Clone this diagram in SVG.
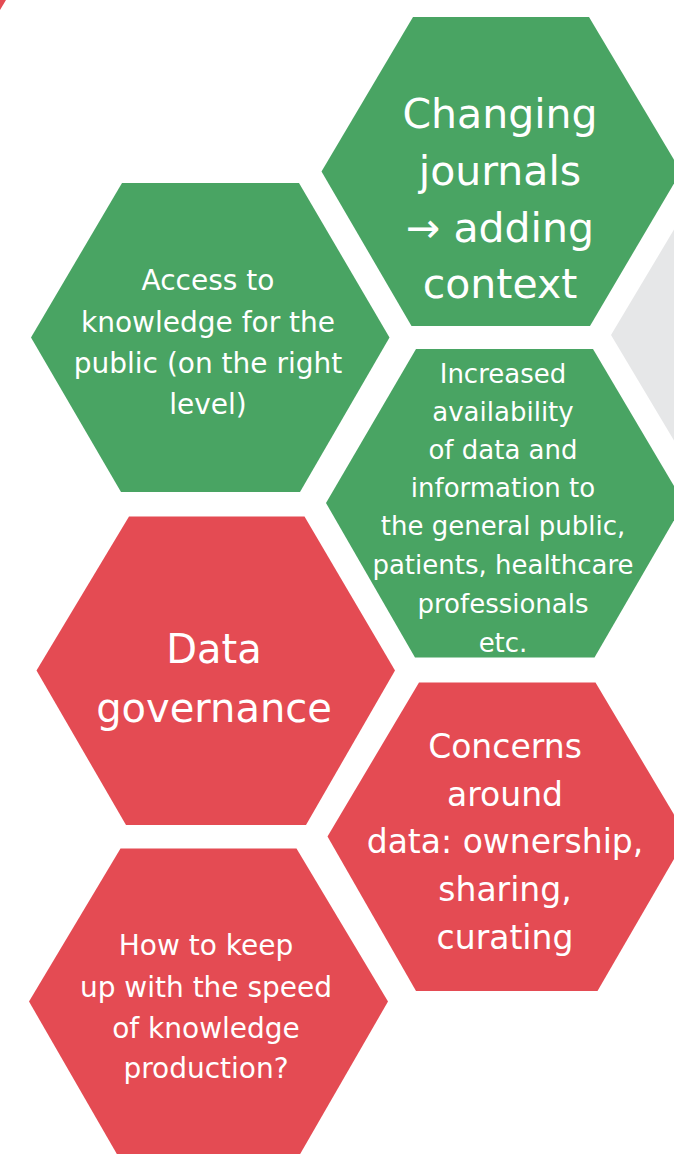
<svg xmlns="http://www.w3.org/2000/svg" width="674" height="1154" viewBox="0 0 674 1154">
<style>
.green{fill:#49a463}
.red{fill:#e44b53}
.grey{fill:#e6e7e8}
text{font-family:"DejaVu Sans","Liberation Sans",sans-serif;fill:#ffffff;text-anchor:middle}
.t41{font-size:41px}
.t40{font-size:40px}
.t33{font-size:33px}
.t28{font-size:28px}
.t26{font-size:26px}
</style>
<rect x="0" y="0" width="674" height="1154" fill="#ffffff"/>
<g id="corner-red">
<polygon class="red" points="0,0 6,0 0,10"/>
</g>
<g id="grey-hex">
<polygon class="grey" points="611,335 703,181 880,181 970,335 880,489 703,489"/>
</g>
<g id="hex-changing-journals">
<polygon class="green" points="413,17 589,17 681,171.5 590,326 411.5,326 321.5,171.5"/>
<text class="t41" x="500" y="128">Changing</text>
<text class="t41" x="500" y="185">journals</text>
<text class="t41" x="500" y="242">→ adding</text>
<text class="t41" x="500" y="298">context</text>
</g>
<g id="hex-access-knowledge">
<polygon class="green" points="122,183 299,183 389.5,337.5 300,492 121,492 31,337.5"/>
<text class="t28" x="208" y="290">Access to</text>
<text class="t28" x="208" y="332">knowledge for the</text>
<text class="t28" x="208" y="373">public (on the right</text>
<text class="t28" x="208" y="414">level)</text>
</g>
<g id="hex-increased-availability">
<polygon class="green" points="416,349 593,349 684,503 594.5,657.5 415,657.5 326,503"/>
<text class="t26" x="503" y="383">Increased</text>
<text class="t26" x="503" y="421">availability</text>
<text class="t26" x="503" y="459">of data and</text>
<text class="t26" x="503" y="497">information to</text>
<text class="t26" x="503" y="535">the general public,</text>
<text class="t26" x="503" y="574">patients, healthcare</text>
<text class="t26" x="503" y="613">professionals</text>
<text class="t26" x="503" y="652">etc.</text>
</g>
<g id="hex-data-governance">
<polygon class="red" points="129,516.5 304.5,516.5 395,670.5 306,825 126,825 36.5,670.5"/>
<text class="t40" x="214" y="663">Data</text>
<text class="t40" x="214" y="722">governance</text>
</g>
<g id="hex-concerns">
<polygon class="red" points="419,682.5 595.5,682.5 687,836.5 597.5,991 416,991 327.5,836.5"/>
<text class="t33" x="505" y="758">Concerns</text>
<text class="t33" x="505" y="806">around</text>
<text class="t33" x="505" y="853">data: ownership,</text>
<text class="t33" x="505" y="901">sharing,</text>
<text class="t33" x="505" y="949">curating</text>
</g>
<g id="hex-keep-up">
<polygon class="red" points="120.5,848.5 296.5,848.5 388,1001.5 299,1156 118,1156 29,1001.5"/>
<text class="t28" x="206" y="955">How to keep</text>
<text class="t28" x="206" y="997">up with the speed</text>
<text class="t28" x="206" y="1038">of knowledge</text>
<text class="t28" x="206" y="1078">production?</text>
</g>
</svg>
